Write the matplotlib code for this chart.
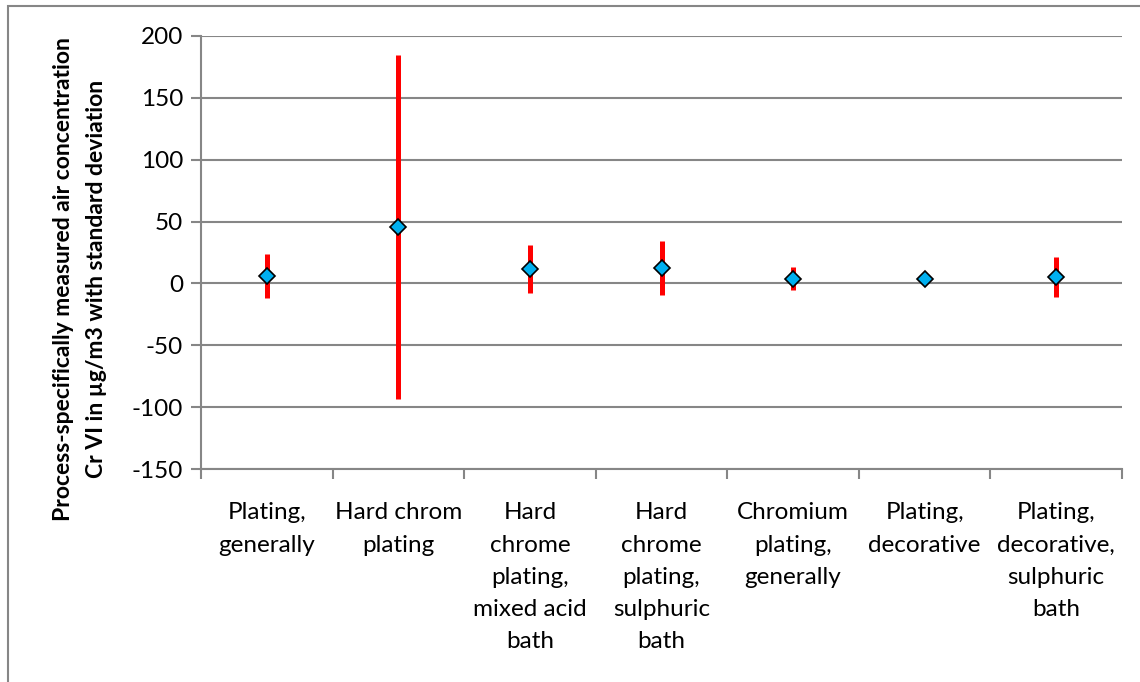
import matplotlib
matplotlib.use("Agg")
import matplotlib.pyplot as plt
from matplotlib.patches import Rectangle

# categorie e valori (media e deviazione standard, µg/m3)
categorie = [
    "Plating,\ngenerally",
    "Hard chrom\nplating",
    "Hard\nchrome\nplating,\nmixed acid\nbath",
    "Hard\nchrome\nplating,\nsulphuric\nbath",
    "Chromium\nplating,\ngenerally",
    "Plating,\ndecorative",
    "Plating,\ndecorative,\nsulphuric\nbath",
]
media = [6.0, 45.8, 11.6, 12.7, 3.8, 3.8, 5.2]
dev_std = [17.6, 139.0, 19.3, 21.8, 9.4, 1.5, 16.3]

y_ticks = [-150, -100, -50, 0, 50, 100, 150, 200]

GRIGIO = "#868686"
ROSSO = "#FF0000"
AZZURRO = "#00B0F0"

plt.rcParams["font.family"] = ["Lato", "DejaVu Sans"]
plt.rcParams["axes.unicode_minus"] = False  # l'originale usa il trattino semplice

W, H = 1140, 682
fig = plt.figure(figsize=(W / 100, H / 100), dpi=100)
ax = fig.add_axes([201 / W, 1 - 469 / H, (1122 - 201) / W, (469 - 36) / H])

# cornice esterna del grafico (tagliata a destra e in basso, come nell'originale)
fig.patches.append(Rectangle((8 / W, -0.1), 1.2, 1 - 6 / H + 0.1, transform=fig.transFigure,
                             facecolor="none", edgecolor=GRIGIO, linewidth=1.5))

x = list(range(len(categorie)))
ax.errorbar(x, media, yerr=dev_std, fmt="none", ecolor=ROSSO, elinewidth=3.6, capsize=0, zorder=3)
ax.plot(x, media, linestyle="none", marker="D", markersize=8, markerfacecolor=AZZURRO,
        markeredgecolor="black", markeredgewidth=1.2, zorder=4)

ax.set_xlim(-0.5, len(categorie) - 0.5)
ax.set_ylim(-150, 200)
ax.set_yticks(y_ticks)
ax.yaxis.grid(True, color=GRIGIO, linewidth=1.5)
ax.set_axisbelow(True)

ax.set_xticks([i - 0.5 for i in range(len(categorie) + 1)])
ax.set_xticklabels([])
ax.set_xticks(x, minor=True)
ax.set_xticklabels(categorie, minor=True, fontsize=17.5, linespacing=1.66, va="top")
ax.tick_params(axis="x", which="major", length=7, width=1.5, color=GRIGIO, direction="out")
ax.tick_params(axis="x", which="minor", length=0, pad=24)
ax.tick_params(axis="y", length=7, width=1.5, color=GRIGIO, labelsize=17.5, pad=6)

for lato in ["top", "right"]:
    ax.spines[lato].set_visible(False)
for lato in ["left", "bottom"]:
    ax.spines[lato].set_color(GRIGIO)
    ax.spines[lato].set_linewidth(1.5)

fig.text(80 / W, 1 - 279 / H,
         "Process-specifically measured air concentration\nCr VI in µg/m3 with standard deviation",
         rotation=90, ha="center", va="center", fontsize=16.5, fontweight="bold",
         linespacing=1.65)

fig.savefig("out.png", dpi=100, facecolor="white")
